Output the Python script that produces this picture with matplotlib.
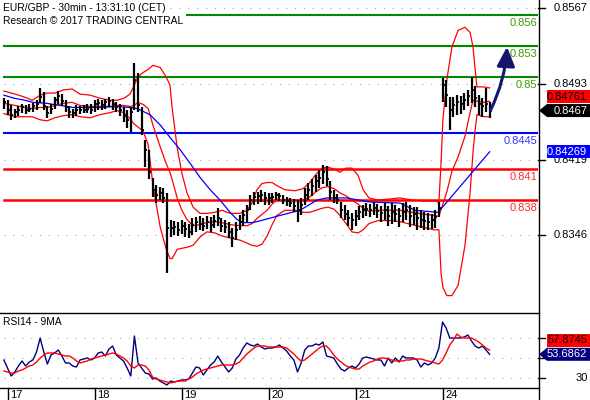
import numpy as np
import matplotlib
matplotlib.use('Agg')
import matplotlib.pyplot as plt
from matplotlib.transforms import IdentityTransform, blended_transform_factory
from matplotlib.patches import Polygon
from matplotlib.lines import Line2D

plt.rcParams['font.family'] = ['Liberation Sans', 'DejaVu Sans']

# ---------------- data ----------------
title_1 = 'EUR/GBP - 30min - 13:31:10 (CET)'
title_2 = 'Research \u00a9 2017 TRADING CENTRAL'
rsi_title = 'RSI14 - 9MA'

day_labels = ['17', '18', '19', '20', '21', '24']
day_pos = [1, 25, 49, 73, 97, 121]          # hour index where each day starts

high = [0.8479,0.8477,0.8472,0.8469,0.8471,0.8473,0.8472,0.8473,0.8474,0.8477,
        0.8489,0.8485,0.8471,0.8473,0.8480,0.8486,0.8483,0.8477,0.8471,0.8469,
        0.8472,0.8471,0.8472,0.8473,0.8473,0.8477,0.8478,0.8477,0.8478,0.8480,
        0.8478,0.8475,0.8473,0.8470,0.8468,0.8470,0.8513,0.8504,0.8470,0.8438,
        0.8429,0.8401,0.8395,0.8393,0.8392,0.8387,0.8361,0.8360,0.8359,0.8361,
        0.8359,0.8357,0.8362,0.8363,0.8364,0.8362,0.8364,0.8363,0.8365,0.8372,
        0.8362,0.8361,0.8359,0.8353,0.8359,0.8365,0.8370,0.8375,0.8385,0.8388,
        0.8388,0.8390,0.8388,0.8387,0.8387,0.8388,0.8387,0.8385,0.8383,0.8382,
        0.8381,0.8380,0.8382,0.8392,0.8397,0.8400,0.8404,0.8409,0.8414,0.8413,
        0.8398,0.8390,0.8386,0.8378,0.8375,0.8370,0.8367,0.8370,0.8374,0.8375,
        0.8377,0.8376,0.8378,0.8376,0.8374,0.8377,0.8374,0.8377,0.8375,0.8372,
        0.8377,0.8378,0.8375,0.8373,0.8373,0.8370,0.8368,0.8367,0.8366,0.8370,
        0.8378,0.8499,0.8497,0.8480,0.8480,0.8482,0.8481,0.8484,0.8487,0.8500,
        0.8491,0.8482,0.8479,0.8489,0.8475]
low = [0.8469,0.8463,0.8458,0.8460,0.8462,0.8465,0.8464,0.8466,0.8466,0.8468,
       0.8474,0.8468,0.8460,0.8464,0.8469,0.8473,0.8471,0.8466,0.8460,0.8460,
       0.8462,0.8464,0.8465,0.8465,0.8464,0.8466,0.8468,0.8468,0.8469,0.8470,
       0.8468,0.8466,0.8462,0.8456,0.8450,0.8446,0.8468,0.8466,0.8443,0.8412,
       0.8400,0.8383,0.8377,0.8380,0.8377,0.8309,0.8344,0.8346,0.8345,0.8347,
       0.8344,0.8343,0.8346,0.8349,0.8351,0.8350,0.8352,0.8349,0.8353,0.8355,
       0.8349,0.8348,0.8343,0.8334,0.8341,0.8351,0.8355,0.8359,0.8370,0.8375,
       0.8376,0.8378,0.8375,0.8375,0.8377,0.8380,0.8379,0.8376,0.8374,0.8373,
       0.8368,0.8359,0.8365,0.8375,0.8380,0.8384,0.8388,0.8392,0.8396,0.8394,
       0.8380,0.8377,0.8376,0.8362,0.8361,0.8355,0.8351,0.8355,0.8361,0.8362,
       0.8364,0.8363,0.8365,0.8362,0.8359,0.8361,0.8355,0.8357,0.8359,0.8354,
       0.8359,0.8361,0.8354,0.8356,0.8351,0.8353,0.8351,0.8351,0.8352,0.8353,
       0.8363,0.8475,0.8470,0.8448,0.8461,0.8463,0.8464,0.8468,0.8471,0.8474,
       0.8470,0.8463,0.8461,0.8466,0.8460]
close = [0.8475,0.8468,0.8463,0.8466,0.8468,0.8470,0.8468,0.8469,0.8471,0.8473,
         0.8480,0.8471,0.8465,0.8469,0.8477,0.8481,0.8476,0.8470,0.8466,0.8465,
         0.8468,0.8468,0.8468,0.8469,0.8468,0.8473,0.8474,0.8472,0.8475,0.8476,
         0.8473,0.8470,0.8468,0.8462,0.8458,0.8466,0.8497,0.8472,0.8448,0.8429,
         0.8407,0.8390,0.8385,0.8387,0.8382,0.8353,0.8353,0.8354,0.8351,0.8355,
         0.8352,0.8349,0.8356,0.8359,0.8357,0.8355,0.8359,0.8356,0.8360,0.8362,
         0.8355,0.8354,0.8349,0.8343,0.8351,0.8359,0.8365,0.8370,0.8380,0.8383,
         0.8384,0.8385,0.8382,0.8382,0.8383,0.8385,0.8384,0.8380,0.8379,0.8377,
         0.8374,0.8370,0.8375,0.8385,0.8390,0.8394,0.8398,0.8401,0.8407,0.8400,
         0.8388,0.8382,0.8380,0.8370,0.8366,0.8362,0.8361,0.8364,0.8368,0.8370,
         0.8371,0.8370,0.8372,0.8369,0.8367,0.8370,0.8364,0.8368,0.8366,0.8364,
         0.8368,0.8370,0.8364,0.8366,0.8362,0.8361,0.8360,0.8359,0.8361,0.8363,
         0.8372,0.8492,0.8482,0.8468,0.8472,0.8475,0.8473,0.8477,0.8481,0.8487,
         0.8479,0.8473,0.8471,0.8473,0.8467]

band_t = [0.0, 3.1, 5.8, 7.8, 10.0, 11.9, 14.1, 16.3, 18.8, 21.0, 23.8, 26.5, 29.3,
          31.2, 33.1, 34.8, 35.9, 37.0, 38.4, 39.8, 41.1, 43.1, 44.7, 45.8, 46.4,
          47.8, 49.1, 50.5, 52.2, 54.1, 56.0, 58.2, 60.2, 62.4, 65.1, 67.1, 68.4,
          69.8, 71.2, 72.6, 74.0, 75.3, 77.5, 80.3, 82.5, 84.4, 86.1, 87.8, 89.4,
          91.1, 92.7, 94.4, 96.0, 97.7, 99.1, 100.7, 103.2, 106.5, 109.2, 112.6,
          116.2, 118.7, 120.0, 120.6, 121.1, 122.2, 123.6, 125.3, 127.2, 128.6,
          129.4, 130.0, 130.5, 132.4, 134.0]
bb_upper = [0.8486,0.8483,0.8480,0.8477,0.8482,0.8484,0.8484,0.8487,0.8488,0.8483,
            0.8482,0.8479,0.8477,0.8477,0.8479,0.8483,0.8491,0.8500,0.8504,0.8507,
            0.8511,0.8509,0.8500,0.8492,0.8470,0.8431,0.8406,0.8387,0.8373,0.8367,
            0.8367,0.8368,0.8370,0.8367,0.8367,0.8370,0.8377,0.8390,0.8396,0.8397,
            0.8397,0.8394,0.8390,0.8389,0.8391,0.8397,0.8405,0.8411,0.8412,0.8410,
            0.8407,0.8411,0.8411,0.8404,0.8390,0.8382,0.8380,0.8381,0.8382,0.8380,
            0.8379,0.8379,0.8378,0.8416,0.8458,0.8497,0.8529,0.8545,0.8548,0.8543,
            0.8529,0.8507,0.8490,0.8490,0.8489]
bb_lower = [0.8464,0.8461,0.8461,0.8461,0.8458,0.8457,0.8460,0.8462,0.8463,0.8461,
            0.8460,0.8463,0.8465,0.8467,0.8465,0.8459,0.8454,0.8451,0.8447,0.8434,
            0.8395,0.8354,0.8333,0.8323,0.8323,0.8332,0.8333,0.8334,0.8336,0.8344,
            0.8349,0.8348,0.8345,0.8343,0.8341,0.8338,0.8336,0.8335,0.8337,0.8345,
            0.8356,0.8365,0.8370,0.8370,0.8368,0.8368,0.8370,0.8372,0.8373,0.8371,
            0.8365,0.8357,0.8349,0.8348,0.8351,0.8357,0.8360,0.8360,0.8359,0.8356,
            0.8353,0.8351,0.8351,0.8309,0.8295,0.8287,0.8287,0.8297,0.8336,0.8387,
            0.8426,0.8448,0.8463,0.8461,0.8461]
bb_mid = [0.8474,0.8472,0.8470,0.8469,0.8470,0.8470,0.8472,0.8474,0.8475,0.8472,
          0.8471,0.8471,0.8471,0.8472,0.8472,0.8471,0.8472,0.8475,0.8473,0.8469,
          0.8453,0.8432,0.8416,0.8407,0.8400,0.8382,0.8370,0.8361,0.8355,0.8356,
          0.8358,0.8359,0.8358,0.8356,0.8355,0.8355,0.8357,0.8362,0.8366,0.8370,
          0.8376,0.8380,0.8380,0.8380,0.8380,0.8383,0.8388,0.8392,0.8393,0.8391,
          0.8387,0.8384,0.8380,0.8376,0.8372,0.8369,0.8370,0.8370,0.8370,0.8368,
          0.8366,0.8365,0.8364,0.8371,0.8376,0.8388,0.8408,0.8422,0.8442,0.8465,
          0.8477,0.8477,0.8476,0.8475,0.84761]

ma_t = [0.0, 2.8, 5.8, 8.0, 11.9, 15.5, 19.1, 22.9, 26.5, 31.2, 34.8, 36.7, 40.3,
        43.1, 45.8, 48.6, 51.3, 54.1, 56.9, 59.6, 62.4, 64.3, 66.0, 68.7, 72.0,
        76.2, 81.7, 86.4, 89.1, 94.6, 101.0, 109.3, 113.4, 119.8, 134.0]
ma_blue = [0.8482,0.8479,0.8477,0.8475,0.8474,0.8472,0.8470,0.8470,0.8470,0.8471,
           0.8470,0.8469,0.8463,0.8453,0.8441,0.8429,0.8416,0.8402,0.8390,0.8380,
           0.8368,0.8361,0.8358,0.8358,0.8361,0.8365,0.8370,0.8380,0.8382,0.8382,
           0.8378,0.8377,0.8370,0.8368,0.84269]

rsi = [48,40,32,36,42,47,42,46,48,56,
       70,56,44,53,55,58,52,45,45,42,
       41,48,49,50,48,50,55,56,52,59,
       62,53,50,47,40,32,72,45,40,35,
       34,29,30,27,25,23,27,26,27,28,
       28,29,35,41,40,33,38,43,46,52,
       46,41,36,40,49,53,60,65,63,62,
       64,61,59,60,60,61,63,60,57,52,
       48,36,45,58,62,62,64,63,66,52,
       51,50,44,39,37,40,42,40,44,50,
       51,50,49,48,48,42,50,45,50,46,
       52,50,50,50,48,41,45,43,45,50,
       60,86,80,70,70,70,70,71,73,67,
       62,60,62,58,53.6862]
rsi_ma = [37,36,35,35,37,38,40,42,43,46,
          50,53,55,55,55,54,53,52,52,50,
          47,45,46,47,49,50,51,52,53,54,
          55,54,52,50,47,42,40,43,43,42,
          38,31,29,28,27,26,25,26,27,27,
          27,29,31,34,36,38,39,40,41,42,
          43,43,43,43,44,46,50,54,57,60,
          62,62,62,61,61,61,61,61,60,57,
          54,50,47,48,51,54,57,60,62,62,
          58,53,49,46,43,41,40,39,39,42,
          44,46,47,49,50,50,49,48,47,47,
          47,48,48,49,49,49,48,47,46,45,
          44,48,55,63,68,74,71,70,70,70,
          68,66,63,60,57.8745]

levels_green = [0.856, 0.853, 0.85]
labels_green = ['0.856', '0.853', '0.85']
levels_blue = [0.8445]
labels_blue = ['0.8445']
levels_red = [0.841, 0.838]
labels_red = ['0.841', '0.838']

price_ticks = [0.8567, 0.8493, 0.8419, 0.8346]
rsi_grid = [70, 50, 30]
rsi_tick_labels = {30: '30'}

forecast_t = 138.8
forecast_price = 0.8529

# ---------------- layout ----------------
W, H = 590, 400
AXR = 538.0
X0, X1 = -1.076, 147.34

def fx(px):
    return px / W

def fy(py):
    return 1 - py / H

fig = plt.figure(figsize=(W / 100, H / 100), dpi=100)
fig.patch.set_facecolor('white')

ax = fig.add_axes([0, fy(303), AXR / W, 303 / H])
ax.set_xlim(X0, X1)
ax.set_ylim(0.82798, 0.857455)
ax.set_axis_off()

ax2 = fig.add_axes([0, fy(388), AXR / W, 75 / H])
ax2.set_xlim(X0, X1)
ax2.set_ylim(20, 95)
ax2.set_axis_off()

DOT = (0, (1, 7))
GRID_C = '#a8a8a8'
FS = 8
FS_T = 7.4

# grid dots
for i, v in enumerate(price_ticks):
    ax.axhline(v, xmin=(170 if i == 0 else 4) / AXR, xmax=1, color=GRID_C,
               lw=0.8, ls=DOT, zorder=1)
for v in rsi_grid:
    ax2.axhline(v, xmin=4 / AXR, xmax=1, color=GRID_C, lw=0.8, ls=DOT, zorder=1)

# level lines
for i, v in enumerate(levels_green):
    ax.axhline(v, xmin=(187 if i == 0 else 4) / AXR, xmax=1, color='#008a00',
               lw=1.5, zorder=2)
for v in levels_blue:
    ax.axhline(v, xmin=4 / AXR, xmax=1, color='#0000ff', lw=1.5, zorder=2)
for v in levels_red:
    ax.axhline(v, xmin=4 / AXR, xmax=1, color='#ff0000', lw=1.8, zorder=2)

# bollinger + moving average
ax.plot(band_t, bb_upper, color='#ff0000', lw=0.9, zorder=3)
ax.plot(band_t, bb_lower, color='#ff0000', lw=0.9, zorder=3)
ax.plot(band_t, bb_mid, color='#ff0000', lw=0.9, zorder=3)
ax.plot(ma_t, ma_blue, color='#0000ff', lw=0.9, zorder=3)

# price bars
t = np.arange(len(close))
ax.vlines(t, low, high, color='black', lw=1.6, zorder=4)
ax.hlines(close, t, t + 0.55, color='black', lw=1.3, zorder=4)

# level labels
def level_label(v, s, c):
    ax.annotate(s, xy=(1, v), xycoords=('axes fraction', 'data'), xytext=(-1, -3),
                textcoords='offset pixels', ha='right', va='top', color=c,
                fontsize=FS, annotation_clip=False, zorder=6)

for v, s in zip(levels_green, labels_green):
    level_label(v, s, '#3a9c00')
for v, s in zip(levels_blue, labels_blue):
    level_label(v, s, '#3333ff')
for v, s in zip(levels_red, labels_red):
    level_label(v, s, '#ff2a2a')

# forecast arrow
ax.annotate('', xy=(forecast_t, forecast_price), xytext=(t[-1] + 0.2, close[-1]),
            arrowprops=dict(arrowstyle='-|>,head_length=0.9,head_width=0.42',
                            color='#16166e', lw=2.2, shrinkA=0, shrinkB=0,
                            mutation_scale=13, connectionstyle='arc3,rad=0.1'),
            annotation_clip=False, zorder=7)

# RSI lines
ax2.plot(t, rsi, color='#000080', lw=1.0, zorder=3)
ax2.plot(t, rsi_ma, color='#ff0000', lw=1.0, zorder=3)

# frame lines
fig.add_artist(Line2D([fx(AXR + 0.5)] * 2, [0, 1], color='black', lw=1.0))
fig.add_artist(Line2D([0, fx(AXR + 0.5)], [fy(313)] * 2, color='black', lw=1.0))
fig.add_artist(Line2D([0, fx(AXR + 0.5)], [fy(388)] * 2, color='black', lw=1.0))

# right axis ticks and labels
btr = blended_transform_factory(ax.transAxes, ax.transData)
for v in price_ticks:
    ax.plot([1, 1 + 7 / AXR], [v, v], transform=btr, color='black', lw=1.0,
            clip_on=False)
    ax.annotate(f'{v:.4f}', xy=(1, v), xycoords=('axes fraction', 'data'),
                xytext=(50, 0), textcoords='offset pixels', ha='right', va='center',
                fontsize=FS, annotation_clip=False, zorder=5)
btr2 = blended_transform_factory(ax2.transAxes, ax2.transData)
for v in rsi_grid:
    ax2.plot([1, 1 + 7 / AXR], [v, v], transform=btr2, color='black', lw=1.0,
             clip_on=False)
    if v in rsi_tick_labels:
        ax2.annotate(rsi_tick_labels[v], xy=(1, v), xycoords=('axes fraction', 'data'),
                     xytext=(50, 0), textcoords='offset pixels', ha='right',
                     va='center', fontsize=FS, annotation_clip=False)

# day ticks on x axis
ID = IdentityTransform()
for p, lab in zip(day_pos, day_labels):
    xp = ax2.transData.transform((p, 0))[0]
    fig.add_artist(Line2D([xp, xp], [0, 12], transform=ID, color='black', lw=1.0))
    fig.text(xp + 3, 5.5, lab, transform=ID, ha='left', va='center', fontsize=FS)

# value tags on the right axis
def ydisp(a, v):
    return a.transData.transform((0, v))[1]

def tag(yc, text, fc, tc, arrow):
    h = 6.5
    if arrow:
        pts = [(539, yc), (547, yc + h), (590, yc + h), (590, yc - h), (547, yc - h)]
    else:
        pts = [(547, yc + h), (590, yc + h), (590, yc - h), (547, yc - h)]
    fig.add_artist(Polygon(pts, closed=True, transform=ID, facecolor=fc,
                           edgecolor='none', zorder=8))
    fig.text(587, yc, text, transform=ID, ha='right', va='center', color=tc,
             fontsize=FS, zorder=9)

yc_close = ydisp(ax, close[-1])
tag(yc_close, f'{close[-1]:.4f}', 'black', 'white', True)
yc_mid = max(ydisp(ax, bb_mid[-1]), yc_close + 14)
tag(yc_mid, f'{bb_mid[-1]:.5f}', '#ff0000', 'black', False)
tag(ydisp(ax, ma_blue[-1]), f'{ma_blue[-1]:.5f}', '#0000ff', 'white', False)

yc_rsi = ydisp(ax2, rsi[-1])
tag(yc_rsi, f'{rsi[-1]:.4f}', '#000080', 'white', True)
yc_rsima = max(ydisp(ax2, rsi_ma[-1]), yc_rsi + 14)
tag(yc_rsima, f'{rsi_ma[-1]:.4f}', '#ff0000', 'black', False)

# titles
fig.text(fx(3), fy(8), title_1, ha='left', va='center', fontsize=FS_T)
fig.text(fx(3), fy(21), title_2, ha='left', va='center', fontsize=FS_T)
fig.text(fx(3), fy(322), rsi_title, ha='left', va='center', fontsize=FS_T)

fig.savefig('out.png', dpi=100)
